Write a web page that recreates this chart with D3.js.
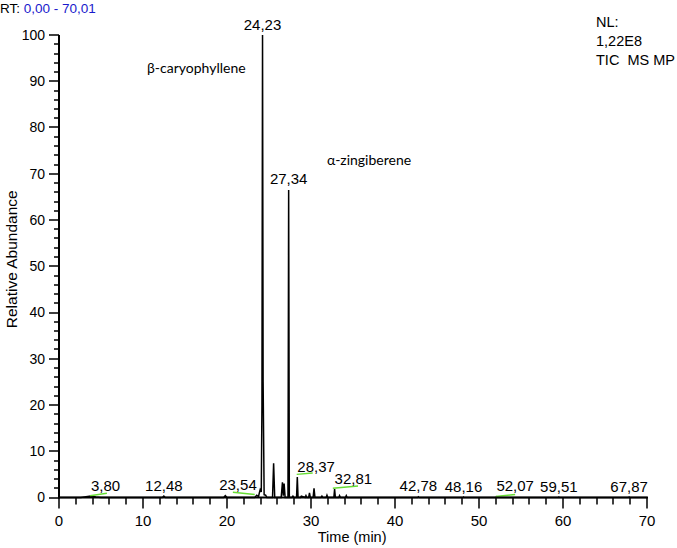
<!DOCTYPE html>
<html>
<head>
<meta charset="utf-8">
<script src="https://cdn.jsdelivr.net/npm/d3@7/dist/d3.min.js"></script>
<style>
  html, body { margin: 0; padding: 0; background: #ffffff; }
  svg { display: block; }
</style>
</head>
<body>
<svg id="chart" width="677" height="548"></svg>
<script>
// ---- Data ----
const traceTime = [
  0, 2.6, 3.0, 3.8, 4.4, 5.0,
  12.3, 12.48, 12.66,
  19.6, 19.8, 20.0,
  23.3, 23.54, 23.75, 23.85, 23.95, 24.08, 24.16, 24.23, 24.3, 24.42, 24.6, 24.75,
  25.42, 25.55, 25.68,
  26.45, 26.6, 26.7, 26.8, 26.92,
  27.26, 27.34, 27.42,
  27.75, 27.85, 27.95,
  28.28, 28.37, 28.46,
  28.75, 28.85, 29.3, 29.4, 29.5,
  29.72, 29.82, 29.92,
  30.25, 30.36, 30.47,
  31.2, 31.3, 31.4, 31.8, 31.9, 32.0,
  32.72, 32.81, 32.9,
  33.3, 33.4, 33.5, 34.1, 34.2, 34.3,
  42.7, 42.78, 42.86,
  48.1, 48.16, 48.22,
  52.0, 52.07, 52.14,
  59.45, 59.51, 59.57,
  67.8, 67.87, 67.94,
  70
];
const traceAbundance = [
  0, 0, 0.1, 0.3, 0.1, 0,
  0, 0.3, 0,
  0, 0.4, 0,
  0, 0.5, 0.2, 1.0, 1.7, 1.2, 20, 100, 25, 0.6, 0.5, 0,
  0, 7.4, 0,
  0, 3.3, 0.4, 3.0, 0,
  0, 66.5, 0,
  0, 0.3, 0,
  0, 4.4, 0,
  0, 0.3, 0, 0.4, 0,
  0, 1.0, 0,
  0, 2.0, 0,
  0, 0.3, 0, 0, 0.5, 0,
  0, 1.8, 0,
  0, 0.4, 0, 0, 0.4, 0,
  0, 0.15, 0,
  0, 0.1, 0,
  0, 0.15, 0,
  0, 0.1, 0,
  0, 0.1, 0,
  0
];

// Peak labels: retention time and apex height
const peakTimes   = [3.80, 12.48, 23.54, 24.23, 27.34, 28.37, 32.81, 42.78, 48.16, 52.07, 59.51, 67.87];
const peakHeights = [0.3, 0.3, 0.5, 100, 66.5, 4.4, 1.8, 0.15, 0.1, 0.15, 0.1, 0.1];
const peakAnchors = ["start", "middle", "end", "middle", "middle", "start", "start", "middle", "middle", "start", "middle", "middle"];

// Green integration baselines: [t1, v1, t2, v2]
const baselineSegments = [
  [3.7, 0.4, 5.7, 0.9],
  [20.7, 1.15, 23.3, 0.65],
  [28.3, 5.0, 30.2, 5.3],
  [32.6, 2.0, 35.6, 2.5],
  [52.0, 0.2, 54.3, 0.65]
];

// Compound annotations
const compoundNames = ["β-caryophyllene", "α-zingiberene"];
const compoundTimes = [24.23, 27.34];

// Axis ticks
const xMajorTicks = [0, 10, 20, 30, 40, 50, 60, 70];
const xMinorTicks = d3.range(0, 71, 2);
const yMajorTicks = [0, 10, 20, 30, 40, 50, 60, 70, 80, 90, 100];
const yMinorTicks = d3.range(0, 101, 2);

const headerRange = "0,00 - 70,01";
const infoLines = ["NL:", "1,22E8", "TIC  MS MP"];

// ---- Layout ----
const svg = d3.select("#chart");
const mLeft = 59, mRight = 647, mTop = 35, mBottom = 497.5;

const x = d3.scaleLinear().domain([0, 70]).range([mLeft, mRight]);
const y = d3.scaleLinear().domain([0, 100]).range([mBottom, mTop]);

const fmt = v => d3.format(".2f")(v).replace(".", ",");
const sans = "'Liberation Sans', Arial, sans-serif";

// Header
const hdr = svg.append("text").attr("x", 0).attr("y", 12.5)
  .attr("font-family", sans).attr("font-size", 13.5);
hdr.append("tspan").attr("fill", "#000").text("RT: ");
hdr.append("tspan").attr("fill", "#1a1acc").text(headerRange);

svg.append("g").selectAll("text").data(infoLines).join("text")
  .attr("x", 596).attr("y", (d, i) => 26.5 + i * 19.3)
  .attr("font-family", sans).attr("font-size", 14.5)
  .attr("fill", "#000")
  .style("white-space", "pre")
  .text(d => d);

// Trace
const tracePath = d3.line().x((d, i) => x(traceTime[i])).y((d, i) => y(traceAbundance[i]));
svg.append("path")
  .datum(traceAbundance)
  .attr("d", tracePath)
  .attr("fill", "none")
  .attr("stroke", "#000")
  .attr("stroke-width", 1.5)
  .attr("stroke-linejoin", "miter");

// Green baselines
svg.append("g").selectAll("line").data(baselineSegments).join("line")
  .attr("x1", d => x(d[0])).attr("y1", d => y(d[1]))
  .attr("x2", d => x(d[2])).attr("y2", d => y(d[3]))
  .attr("stroke", "#66dd33").attr("stroke-width", 1.5);

// X axis ticks as filled rects from the scale
svg.append("g").selectAll("rect").data(xMinorTicks).join("rect")
  .attr("x", d => Math.round(x(d)) - 0.75)
  .attr("y", mBottom)
  .attr("width", 1.5)
  .attr("height", d => xMajorTicks.includes(d) ? 11 : 7)
  .attr("fill", "#000");
svg.append("g").selectAll("text").data(xMajorTicks).join("text")
  .attr("x", d => x(d)).attr("y", mBottom + 28.5)
  .attr("text-anchor", "middle")
  .attr("font-family", sans).attr("font-size", 15).attr("fill", "#000")
  .text(d => d3.format("d")(d));
svg.append("rect").attr("x", mLeft - 1).attr("y", mBottom - 1)
  .attr("width", mRight - mLeft + 2).attr("height", 2).attr("fill", "#000");

// Y axis ticks as filled rects from the scale
svg.append("g").selectAll("rect").data(yMinorTicks).join("rect")
  .attr("x", d => yMajorTicks.includes(d) ? mLeft - 10 : mLeft - 5)
  .attr("y", d => Math.round(y(d)) - 0.75)
  .attr("width", d => yMajorTicks.includes(d) ? 10 : 5)
  .attr("height", 1.5)
  .attr("fill", "#000");
svg.append("g").selectAll("text").data(yMajorTicks).join("text")
  .attr("x", mLeft - 14).attr("y", d => y(d))
  .attr("dy", "0.35em")
  .attr("text-anchor", "end")
  .attr("font-family", sans).attr("font-size", 14).attr("fill", "#000")
  .text(d => d3.format("d")(d));
svg.append("rect").attr("x", mLeft - 1).attr("y", mTop)
  .attr("width", 2).attr("height", mBottom - mTop + 1).attr("fill", "#000");

// Axis titles
svg.append("text").attr("x", x(34.9)).attr("y", 542)
  .attr("text-anchor", "middle").attr("font-family", sans).attr("font-size", 14.5)
  .text("Time (min)");
svg.append("text")
  .attr("transform", `translate(17,${y(51.5)}) rotate(-90)`)
  .attr("text-anchor", "middle").attr("font-family", sans).attr("font-size", 15.5)
  .text("Relative Abundance");

// Peak labels
svg.append("g").selectAll("text").data(peakTimes).join("text")
  .attr("x", d => x(d))
  .attr("y", (d, i) => y(peakHeights[i]) - 5.5)
  .attr("text-anchor", (d, i) => peakAnchors[i])
  .attr("font-family", sans).attr("font-size", 15).attr("fill", "#000")
  .text(d => fmt(d));

// Compound annotations
const compoundY = [73, 165];
const compoundX = [-13.75, 4.56];
svg.append("g").selectAll("text").data(compoundNames).join("text")
  .attr("x", (d, i) => x(compoundTimes[i] + compoundX[i]))
  .attr("y", (d, i) => compoundY[i])
  .attr("font-family", "Lato, 'Open Sans', sans-serif").attr("font-size", 14).attr("fill", "#000")
  .text(d => d);
</script>
</body>
</html>
